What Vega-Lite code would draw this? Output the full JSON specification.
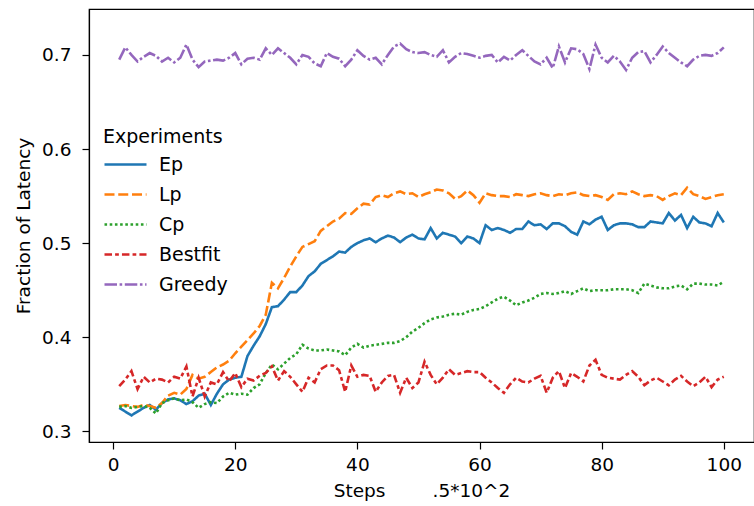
{
  "$schema": "https://vega.github.io/schema/vega-lite/v6.json",
  "autosize": "none",
  "width": 665,
  "height": 433,
  "padding": {"left": 89, "top": 9, "right": 0, "bottom": 64},
  "background": "white",
  "config": {
    "font": "DejaVu Sans",
    "view": {"stroke": "black", "strokeWidth": 1.2},
    "axis": {"grid": false, "domainColor": "black", "tickColor": "black", "labelColor": "black", "titleColor": "black", "labelFont": "DejaVu Sans", "titleFont": "DejaVu Sans", "labelFontSize": 18.5, "titleFontSize": 18.5, "titleFontWeight": "normal", "tickSize": 7, "domainWidth": 1.2, "tickWidth": 1.2}
  },
  "data": {
    "values": [
      {"step":1,"Ep":0.325,"Lp":0.327,"Cp":0.326,"Bestfit":0.348,"Greedy":0.695},
      {"step":2,"Ep":0.321,"Lp":0.328,"Cp":0.327,"Bestfit":0.355,"Greedy":0.708},
      {"step":3,"Ep":0.317,"Lp":0.327,"Cp":0.325,"Bestfit":0.364,"Greedy":0.700},
      {"step":4,"Ep":0.321,"Lp":0.326,"Cp":0.326,"Bestfit":0.345,"Greedy":0.693},
      {"step":5,"Ep":0.325,"Lp":0.328,"Cp":0.327,"Bestfit":0.358,"Greedy":0.698},
      {"step":6,"Ep":0.328,"Lp":0.327,"Cp":0.325,"Bestfit":0.352,"Greedy":0.702},
      {"step":7,"Ep":0.323,"Lp":0.325,"Cp":0.319,"Bestfit":0.356,"Greedy":0.699},
      {"step":8,"Ep":0.330,"Lp":0.330,"Cp":0.330,"Bestfit":0.355,"Greedy":0.693},
      {"step":9,"Ep":0.334,"Lp":0.338,"Cp":0.333,"Bestfit":0.352,"Greedy":0.697},
      {"step":10,"Ep":0.335,"Lp":0.341,"Cp":0.335,"Bestfit":0.358,"Greedy":0.692},
      {"step":11,"Ep":0.333,"Lp":0.339,"Cp":0.333,"Bestfit":0.356,"Greedy":0.697},
      {"step":12,"Ep":0.329,"Lp":0.345,"Cp":0.334,"Bestfit":0.369,"Greedy":0.711},
      {"step":13,"Ep":0.332,"Lp":0.360,"Cp":0.331,"Bestfit":0.337,"Greedy":0.695},
      {"step":14,"Ep":0.338,"Lp":0.356,"Cp":0.325,"Bestfit":0.357,"Greedy":0.687},
      {"step":15,"Ep":0.340,"Lp":0.358,"Cp":0.329,"Bestfit":0.337,"Greedy":0.693},
      {"step":16,"Ep":0.328,"Lp":0.363,"Cp":0.331,"Bestfit":0.352,"Greedy":0.694},
      {"step":17,"Ep":0.340,"Lp":0.368,"Cp":0.330,"Bestfit":0.350,"Greedy":0.695},
      {"step":18,"Ep":0.350,"Lp":0.371,"Cp":0.337,"Bestfit":0.363,"Greedy":0.694},
      {"step":19,"Ep":0.355,"Lp":0.375,"Cp":0.341,"Bestfit":0.353,"Greedy":0.697},
      {"step":20,"Ep":0.357,"Lp":0.383,"Cp":0.339,"Bestfit":0.362,"Greedy":0.702},
      {"step":21,"Ep":0.358,"Lp":0.390,"Cp":0.340,"Bestfit":0.347,"Greedy":0.690},
      {"step":22,"Ep":0.380,"Lp":0.397,"Cp":0.339,"Bestfit":0.356,"Greedy":0.696},
      {"step":23,"Ep":0.391,"Lp":0.404,"Cp":0.346,"Bestfit":0.354,"Greedy":0.697},
      {"step":24,"Ep":0.401,"Lp":0.412,"Cp":0.350,"Bestfit":0.359,"Greedy":0.695},
      {"step":25,"Ep":0.414,"Lp":0.424,"Cp":0.362,"Bestfit":0.362,"Greedy":0.707},
      {"step":26,"Ep":0.432,"Lp":0.458,"Cp":0.371,"Bestfit":0.369,"Greedy":0.700},
      {"step":27,"Ep":0.433,"Lp":0.452,"Cp":0.366,"Bestfit":0.354,"Greedy":0.707},
      {"step":28,"Ep":0.440,"Lp":0.463,"Cp":0.372,"Bestfit":0.364,"Greedy":0.702},
      {"step":29,"Ep":0.448,"Lp":0.475,"Cp":0.378,"Bestfit":0.358,"Greedy":0.697},
      {"step":30,"Ep":0.448,"Lp":0.486,"Cp":0.382,"Bestfit":0.350,"Greedy":0.690},
      {"step":31,"Ep":0.455,"Lp":0.496,"Cp":0.392,"Bestfit":0.342,"Greedy":0.700},
      {"step":32,"Ep":0.465,"Lp":0.499,"Cp":0.388,"Bestfit":0.357,"Greedy":0.698},
      {"step":33,"Ep":0.470,"Lp":0.502,"Cp":0.386,"Bestfit":0.352,"Greedy":0.691},
      {"step":34,"Ep":0.478,"Lp":0.513,"Cp":0.386,"Bestfit":0.366,"Greedy":0.688},
      {"step":35,"Ep":0.482,"Lp":0.518,"Cp":0.387,"Bestfit":0.370,"Greedy":0.702},
      {"step":36,"Ep":0.486,"Lp":0.523,"Cp":0.386,"Bestfit":0.370,"Greedy":0.698},
      {"step":37,"Ep":0.491,"Lp":0.526,"Cp":0.385,"Bestfit":0.365,"Greedy":0.696},
      {"step":38,"Ep":0.490,"Lp":0.532,"Cp":0.381,"Bestfit":0.342,"Greedy":0.688},
      {"step":39,"Ep":0.496,"Lp":0.531,"Cp":0.389,"Bestfit":0.370,"Greedy":0.695},
      {"step":40,"Ep":0.500,"Lp":0.537,"Cp":0.393,"Bestfit":0.358,"Greedy":0.705},
      {"step":41,"Ep":0.503,"Lp":0.542,"Cp":0.389,"Bestfit":0.360,"Greedy":0.699},
      {"step":42,"Ep":0.505,"Lp":0.541,"Cp":0.391,"Bestfit":0.359,"Greedy":0.695},
      {"step":43,"Ep":0.501,"Lp":0.549,"Cp":0.392,"Bestfit":0.342,"Greedy":0.697},
      {"step":44,"Ep":0.505,"Lp":0.551,"Cp":0.393,"Bestfit":0.352,"Greedy":0.690},
      {"step":45,"Ep":0.508,"Lp":0.549,"Cp":0.394,"Bestfit":0.359,"Greedy":0.700},
      {"step":46,"Ep":0.506,"Lp":0.553,"Cp":0.394,"Bestfit":0.360,"Greedy":0.709},
      {"step":47,"Ep":0.501,"Lp":0.555,"Cp":0.396,"Bestfit":0.341,"Greedy":0.712},
      {"step":48,"Ep":0.506,"Lp":0.552,"Cp":0.400,"Bestfit":0.357,"Greedy":0.706},
      {"step":49,"Ep":0.509,"Lp":0.553,"Cp":0.406,"Bestfit":0.346,"Greedy":0.703},
      {"step":50,"Ep":0.505,"Lp":0.549,"Cp":0.410,"Bestfit":0.352,"Greedy":0.702},
      {"step":51,"Ep":0.504,"Lp":0.552,"Cp":0.415,"Bestfit":0.374,"Greedy":0.703},
      {"step":52,"Ep":0.516,"Lp":0.554,"Cp":0.419,"Bestfit":0.360,"Greedy":0.700},
      {"step":53,"Ep":0.505,"Lp":0.557,"Cp":0.421,"Bestfit":0.350,"Greedy":0.698},
      {"step":54,"Ep":0.511,"Lp":0.556,"Cp":0.422,"Bestfit":0.357,"Greedy":0.705},
      {"step":55,"Ep":0.509,"Lp":0.553,"Cp":0.424,"Bestfit":0.366,"Greedy":0.692},
      {"step":56,"Ep":0.507,"Lp":0.547,"Cp":0.425,"Bestfit":0.360,"Greedy":0.698},
      {"step":57,"Ep":0.500,"Lp":0.550,"Cp":0.424,"Bestfit":0.362,"Greedy":0.702},
      {"step":58,"Ep":0.507,"Lp":0.556,"Cp":0.427,"Bestfit":0.364,"Greedy":0.701},
      {"step":59,"Ep":0.505,"Lp":0.551,"Cp":0.429,"Bestfit":0.363,"Greedy":0.699},
      {"step":60,"Ep":0.500,"Lp":0.543,"Cp":0.430,"Bestfit":0.363,"Greedy":0.697},
      {"step":61,"Ep":0.519,"Lp":0.553,"Cp":0.433,"Bestfit":0.357,"Greedy":0.699},
      {"step":62,"Ep":0.514,"Lp":0.551,"Cp":0.437,"Bestfit":0.352,"Greedy":0.700},
      {"step":63,"Ep":0.516,"Lp":0.550,"Cp":0.441,"Bestfit":0.346,"Greedy":0.692},
      {"step":64,"Ep":0.514,"Lp":0.550,"Cp":0.443,"Bestfit":0.341,"Greedy":0.698},
      {"step":65,"Ep":0.511,"Lp":0.549,"Cp":0.439,"Bestfit":0.350,"Greedy":0.694},
      {"step":66,"Ep":0.515,"Lp":0.552,"Cp":0.434,"Bestfit":0.357,"Greedy":0.700},
      {"step":67,"Ep":0.515,"Lp":0.551,"Cp":0.437,"Bestfit":0.353,"Greedy":0.705},
      {"step":68,"Ep":0.523,"Lp":0.550,"Cp":0.439,"Bestfit":0.352,"Greedy":0.699},
      {"step":69,"Ep":0.519,"Lp":0.552,"Cp":0.442,"Bestfit":0.356,"Greedy":0.693},
      {"step":70,"Ep":0.520,"Lp":0.553,"Cp":0.446,"Bestfit":0.359,"Greedy":0.690},
      {"step":71,"Ep":0.515,"Lp":0.551,"Cp":0.447,"Bestfit":0.341,"Greedy":0.697},
      {"step":72,"Ep":0.521,"Lp":0.550,"Cp":0.446,"Bestfit":0.357,"Greedy":0.686},
      {"step":73,"Ep":0.521,"Lp":0.552,"Cp":0.447,"Bestfit":0.364,"Greedy":0.709},
      {"step":74,"Ep":0.518,"Lp":0.551,"Cp":0.449,"Bestfit":0.346,"Greedy":0.692},
      {"step":75,"Ep":0.512,"Lp":0.553,"Cp":0.446,"Bestfit":0.362,"Greedy":0.707},
      {"step":76,"Ep":0.509,"Lp":0.554,"Cp":0.449,"Bestfit":0.358,"Greedy":0.706},
      {"step":77,"Ep":0.523,"Lp":0.551,"Cp":0.452,"Bestfit":0.353,"Greedy":0.701},
      {"step":78,"Ep":0.520,"Lp":0.550,"Cp":0.449,"Bestfit":0.370,"Greedy":0.685},
      {"step":79,"Ep":0.525,"Lp":0.551,"Cp":0.450,"Bestfit":0.376,"Greedy":0.711},
      {"step":80,"Ep":0.528,"Lp":0.549,"Cp":0.450,"Bestfit":0.360,"Greedy":0.697},
      {"step":81,"Ep":0.514,"Lp":0.546,"Cp":0.450,"Bestfit":0.357,"Greedy":0.692},
      {"step":82,"Ep":0.519,"Lp":0.552,"Cp":0.451,"Bestfit":0.356,"Greedy":0.699},
      {"step":83,"Ep":0.521,"Lp":0.553,"Cp":0.451,"Bestfit":0.355,"Greedy":0.693},
      {"step":84,"Ep":0.521,"Lp":0.552,"Cp":0.451,"Bestfit":0.360,"Greedy":0.684},
      {"step":85,"Ep":0.520,"Lp":0.555,"Cp":0.450,"Bestfit":0.364,"Greedy":0.697},
      {"step":86,"Ep":0.517,"Lp":0.552,"Cp":0.447,"Bestfit":0.358,"Greedy":0.703},
      {"step":87,"Ep":0.517,"Lp":0.550,"Cp":0.457,"Bestfit":0.349,"Greedy":0.704},
      {"step":88,"Ep":0.523,"Lp":0.551,"Cp":0.455,"Bestfit":0.354,"Greedy":0.692},
      {"step":89,"Ep":0.522,"Lp":0.550,"Cp":0.453,"Bestfit":0.357,"Greedy":0.700},
      {"step":90,"Ep":0.521,"Lp":0.546,"Cp":0.452,"Bestfit":0.353,"Greedy":0.709},
      {"step":91,"Ep":0.532,"Lp":0.550,"Cp":0.452,"Bestfit":0.349,"Greedy":0.702},
      {"step":92,"Ep":0.524,"Lp":0.553,"Cp":0.454,"Bestfit":0.355,"Greedy":0.697},
      {"step":93,"Ep":0.530,"Lp":0.551,"Cp":0.455,"Bestfit":0.359,"Greedy":0.692},
      {"step":94,"Ep":0.516,"Lp":0.559,"Cp":0.451,"Bestfit":0.353,"Greedy":0.688},
      {"step":95,"Ep":0.528,"Lp":0.552,"Cp":0.457,"Bestfit":0.348,"Greedy":0.695},
      {"step":96,"Ep":0.522,"Lp":0.550,"Cp":0.457,"Bestfit":0.352,"Greedy":0.699},
      {"step":97,"Ep":0.521,"Lp":0.547,"Cp":0.456,"Bestfit":0.358,"Greedy":0.700},
      {"step":98,"Ep":0.518,"Lp":0.549,"Cp":0.456,"Bestfit":0.347,"Greedy":0.699},
      {"step":99,"Ep":0.532,"Lp":0.551,"Cp":0.455,"Bestfit":0.355,"Greedy":0.702},
      {"step":100,"Ep":0.522,"Lp":0.552,"Cp":0.459,"Bestfit":0.358,"Greedy":0.708}
    ]
  },
  "transform": [
    {"fold": ["Ep", "Lp", "Cp", "Bestfit", "Greedy"], "as": ["Experiments", "value"]}
  ],
  "mark": {"type": "line", "strokeWidth": 2.6, "clip": true},
  "encoding": {
    "x": {
      "field": "step", "type": "quantitative",
      "scale": {"domain": [-3.95, 104.95], "nice": false, "zero": false},
      "axis": {"values": [0, 20, 40, 60, 80, 100], "format": "d", "labelPadding": 6, "title": "Steps\u00a0\u00a0\u00a0\u00a0\u00a0\u00a0\u00a0\u00a0.5*10^2", "titlePadding": 8}
    },
    "y": {
      "field": "value", "type": "quantitative",
      "scale": {"domain": [0.2887, 0.7488], "nice": false, "zero": false},
      "axis": {"values": [0.3, 0.4, 0.5, 0.6, 0.7], "format": ".1f", "labelPadding": 11, "title": "Fraction of Latency", "titlePadding": 8}
    },
    "color": {
      "field": "Experiments", "type": "nominal",
      "scale": {"domain": ["Ep", "Lp", "Cp", "Bestfit", "Greedy"], "range": ["#1f77b4", "#ff7f0e", "#2ca02c", "#d62728", "#9467bd"]},
      "legend": {
        "orient": "none", "legendX": 14, "legendY": 119, "padding": 0,
        "symbolType": "stroke", "symbolSize": 1764, "symbolStrokeWidth": 2.6,
        "labelFontSize": 19, "titleFontSize": 19, "titleFontWeight": "normal", "titleColor": "black", "labelColor": "black",
        "labelOffset": 11, "rowPadding": 1, "clipHeight": 29, "titlePadding": 3
      }
    },
    "strokeDash": {
      "field": "Experiments", "type": "nominal",
      "scale": {"domain": ["Ep", "Lp", "Cp", "Bestfit", "Greedy"], "range": [[1, 0], [10, 3.75], [2.6, 2.6], [7.5, 3.1, 3.75, 3.1], [12.5, 2.6, 2.6, 2.6]]},
      "legend": null
    }
  }
}
